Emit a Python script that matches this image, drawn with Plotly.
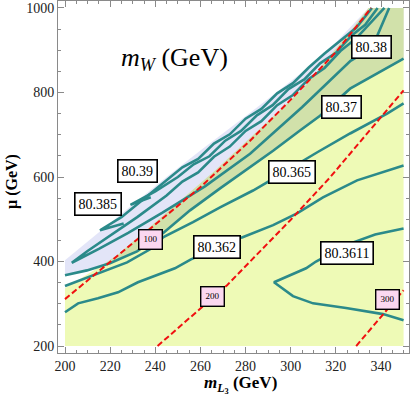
import numpy as np
import plotly.graph_objects as go

# ---- data (m_L3, mu) ----
# upper-left edge of the computed region
EDGE_M = [200, 215, 230, 245, 260, 282, 304, 320, 334.5]
EDGE_MU = [403, 470, 535, 600, 663, 752, 843, 918, 1000]

# upper edge of the yellow region
YTOP_M = [200, 222, 241, 260, 282, 304, 320.5, 334.5]
YTOP_MU = [337, 410, 497, 583, 692, 800, 905, 1000]

# m_W contours
W80370_M = [200, 209.7, 219.9, 231.9, 243.4, 255.4, 268.7, 283.3, 292.2, 304.1, 313, 326.3, 338.7, 350]
W80370_MU = [367.5, 379, 396, 424, 467, 521, 573, 627, 662, 710, 745, 809, 847, 880]

W80365_M = [200, 212.4, 227.5, 237.7, 243.4, 256.7, 268.7, 283.3, 289.5, 311.6, 326.3, 342.7, 350]
W80365_MU = [342, 368, 398, 429, 457, 493, 528, 568, 587, 658, 703, 750, 774]

W80362_M = [200, 205.8, 214.6, 223.5, 232.3, 241.2, 248.7, 255.8, 267, 278.4, 292.2, 302.8, 314.3, 329.4, 350]
W80362_MU = [280, 301, 313, 327, 351, 368, 384, 405, 431, 457, 486, 514, 552, 592, 627]

W803611_M = [350, 337.4, 325, 311.2, 306.8, 301, 296.6, 292.6, 301, 309.9, 324.5, 340.9, 350]
W803611_MU = [478, 464, 440, 400, 384, 370, 360, 351, 318, 301, 290, 275.5, 261]

W80380_M = [343.6, 336, 326.5, 305, 282, 262, 243, 228, 215, 203,
            210, 220, 232, 245, 252, 259, 266, 273, 280, 287, 294, 301, 308, 315, 322, 329, 336, 341.5]
W80380_MU = [1000, 905, 875, 765, 655, 578, 515, 468, 430, 397,
             425, 462, 505, 556, 589, 611, 648, 672, 709, 732, 770, 794, 832, 858, 898, 928, 969, 1000]

W80385_M = [226, 215.5, 225, 237, 245, 252, 259, 266, 273, 280, 287, 294, 301, 308, 315, 322, 329, 336]
W80385_MU = [490, 474, 505, 558, 591, 623, 643, 679, 701, 738, 761, 798, 822, 859, 892, 922, 953, 1000]

W80390_M = [238, 229, 240, 250, 257, 264, 271, 278, 285, 292, 299, 306, 313, 320, 327, 333, 338.5]
W80390_MU = [552, 534, 566, 600, 630, 649, 686, 709, 746, 770, 808, 831, 869, 894, 935, 960, 1000]

CONTOURS = [
    (W80370_M, W80370_MU), (W80365_M, W80365_MU), (W80362_M, W80362_MU),
    (W803611_M, W803611_MU), (W80380_M, W80380_MU), (W80385_M, W80385_MU),
    (W80390_M, W80390_MU),
]

# red dashed reference lines
R100_M = [200, 230, 259.8, 282, 300, 320.5, 335.6]
R100_MU = [311, 443, 575, 686, 783, 898.5, 1000]
R200_M = [241, 271.8, 299.7, 317.4, 350]
R200_MU = [200, 344, 497, 599, 805]
R300_M = [329, 348.9, 350]
R300_MU = [200, 325, 332]
RED_LINES = [(R100_M, R100_MU), (R200_M, R200_MU), (R300_M, R300_MU)]

# labels
W_LABELS = ["80.39", "80.385", "80.38", "80.37", "80.365", "80.362", "80.3611"]
W_LABEL_M = [232, 214.6, 336, 322.3, 300.6, 267.3, 325]
W_LABEL_MU = [615, 535, 907, 766, 613, 435, 421]

R_LABELS = ["100", "200", "300"]
R_LABEL_M = [238, 265.3, 343]
R_LABEL_MU = [453, 317, 309]

SERIF = "Liberation Serif, Times New Roman, serif"
TEAL = "#2b8a8a"
GRAY = "#8a8a8a"

fig = go.Figure()

# yellow region
fig.add_trace(go.Scatter(
    x=[200, 350, 350] + YTOP_M[::-1],
    y=[200, 200, 1000] + YTOP_MU[::-1],
    fill="toself", fillcolor="#eefab6", line=dict(width=0),
    mode="lines", hoverinfo="skip"))

# lavender band between the edge and the 80.37 contour
fig.add_trace(go.Scatter(
    x=EDGE_M + [350] + W80370_M[::-1],
    y=EDGE_MU + [1000] + W80370_MU[::-1],
    fill="toself", fillcolor="#e3e5f8", line=dict(width=0),
    mode="lines", hoverinfo="skip"))

# overlap of the two regions (olive)
grid = np.linspace(200, 350, 301)
upper = np.interp(grid, YTOP_M + [350], YTOP_MU + [1000])
lower = np.interp(grid, W80370_M, W80370_MU)
keep = upper > lower
fig.add_trace(go.Scatter(
    x=list(grid[keep]) + list(grid[keep][::-1]),
    y=list(upper[keep]) + list(lower[keep][::-1]),
    fill="toself", fillcolor="#d1e1aa", line=dict(width=0),
    mode="lines", hoverinfo="skip"))

for cm, cmu in CONTOURS:
    fig.add_trace(go.Scatter(x=cm, y=cmu, mode="lines",
                             line=dict(color=TEAL, width=2.6), hoverinfo="skip"))

for rm, rmu in RED_LINES:
    fig.add_trace(go.Scatter(x=rm, y=rmu, mode="lines",
                             line=dict(color="#f01010", width=2, dash="6px,3px"),
                             hoverinfo="skip"))

for txt, lm, lmu in zip(W_LABELS, W_LABEL_M, W_LABEL_MU):
    fig.add_annotation(x=lm, y=lmu, text=txt, showarrow=False,
                       font=dict(family=SERIF, size=14, color="black"),
                       bgcolor="white", bordercolor="black", borderwidth=1.6, borderpad=3)

for txt, lm, lmu in zip(R_LABELS, R_LABEL_M, R_LABEL_MU):
    fig.add_annotation(x=lm, y=lmu, text=txt, showarrow=False,
                       font=dict(family=SERIF, size=9, color="black"),
                       bgcolor="#fbd8f0", bordercolor="black", borderwidth=1.4, borderpad=4)

# title and axis titles
fig.add_annotation(x=248.5, y=880, text="<i>m</i><sub><i>W</i></sub> (GeV)", showarrow=False,
                   font=dict(family=SERIF, size=26, color="black"))
fig.add_annotation(xref="paper", yref="paper", x=0.519, y=0, yshift=-31,
                   xanchor="center", yanchor="middle", showarrow=False,
                   text="<b><i>m</i><sub><i>L</i><sub>3</sub></sub> (GeV)</b>",
                   font=dict(family=SERIF, size=17, color="black"))
fig.add_annotation(xref="paper", yref="paper", x=0, y=0.486, xshift=-46,
                   xanchor="center", yanchor="middle", textangle=-90,
                   showarrow=False, text="<b>μ (GeV)</b>",
                   font=dict(family=SERIF, size=16, color="black"))

axis_common = dict(
    showgrid=False, zeroline=False, showline=True, linecolor=GRAY, linewidth=1,
    mirror="ticks", ticks="inside", ticklen=6, tickcolor=GRAY, tickwidth=1,
    tickfont=dict(family=SERIF, size=14, color="#222"), automargin=False,
)
fig.update_xaxes(range=[196.9, 352.4], tickvals=[200, 220, 240, 260, 280, 300, 320, 340],
                 minor=dict(dtick=5, ticks="inside", ticklen=3, tickcolor=GRAY),
                 **axis_common)
fig.update_yaxes(range=[183.5, 1016.5], tickvals=[200, 400, 600, 800, 1000],
                 minor=dict(dtick=50, ticks="inside", ticklen=3, tickcolor=GRAY),
                 **axis_common)

fig.update_layout(
    width=412, height=402,
    margin=dict(l=58, r=3, t=1, b=49),
    plot_bgcolor="white", paper_bgcolor="white",
    showlegend=False, hovermode=False,
)

# page has a default body margin; remove it so the figure sits at the window origin
fig.write_html("out.html", config={"displayModeBar": False},
               post_script="document.body.style.margin='0px';")
